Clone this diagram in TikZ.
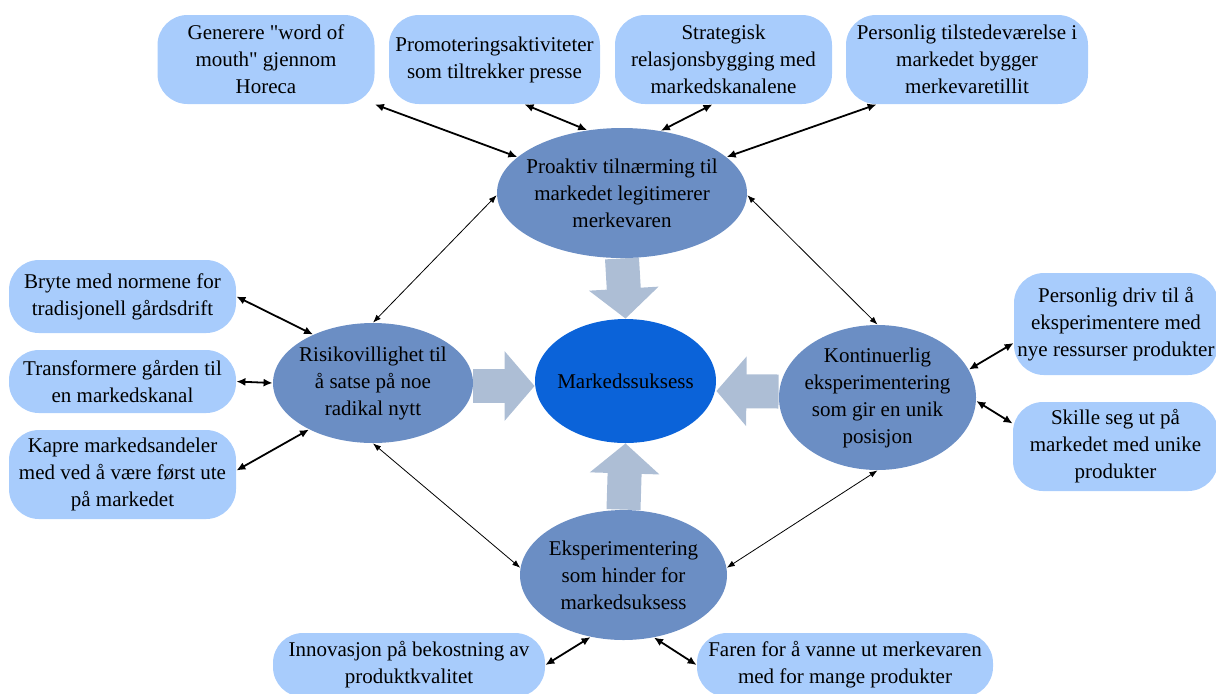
\documentclass[tikz,border=0pt]{standalone}
\usepackage{fontspec}
\setmainfont{Liberation Serif}[Ligatures=TeXOff]
\usetikzlibrary{shapes.geometric, arrows.meta, backgrounds}

\definecolor{boxblue}{RGB}{168,204,252}
\definecolor{themeblue}{RGB}{107,142,196}
\definecolor{coreblue}{RGB}{11,99,217}
\definecolor{flowgrey}{RGB}{173,190,213}

\begin{document}
\begin{tikzpicture}[x=0.5pt, y=-0.5pt,
    every node/.style={font=\fontsize{10.5}{13.5}\selectfont, align=center, inner sep=0pt},
    theme/.style={ellipse, fill=themeblue, inner xsep=-6pt},
    core/.style={ellipse, fill=coreblue, inner xsep=-3pt},
    item/.style={rectangle, rounded corners=15pt, fill=boxblue},
    link/.style={{Latex[length=4.5pt,width=4pt]}-{Latex[length=4.5pt,width=4pt]}, line width=0.9pt},
    thinlink/.style={{Latex[length=4pt,width=3pt]}-{Latex[length=4pt,width=3pt]}, line width=0.4pt},
    flow/.style={draw=flowgrey, line width=17pt, -{Triangle[length=15pt,width=34pt,color=flowgrey]}}]
    \useasboundingbox (0,0) rectangle (1216,693);

    % Themes
    \node[core, minimum width=90.5pt, minimum height=62pt] (mid) at (625.5,381) {Markedssuksess};
    \node[theme, minimum width=125pt, minimum height=65pt] (top) at (622,193)
        {Proaktiv tilnærming til\\markedet legitimerer\\merkevaren};
    \node[theme, minimum width=100pt, minimum height=60pt] (left) at (373,383)
        {Risikovillighet til\\å satse på noe\\radikal nytt};
    \node[theme, minimum width=98.5pt, minimum height=72.5pt] (right) at (877.5,397.5)
        {Kontinuerlig\\eksperimentering\\som gir en unik\\posisjon};
    \node[theme, minimum width=103.5pt, minimum height=65pt] (bot) at (623.5,575)
        {Eksperimentering\\som hinder for\\markedsuksess};

    % Top row
    \foreach \n/\x/\w/\t in {1/266/108.5/{Generere "word of\\mouth" gjennom\\Horeca},
                             2/494.5/105.5/{Promoteringsaktiviteter\\som tiltrekker presse},
                             3/723.5/108.5/{Strategisk\\relasjonsbygging med\\markedskanalene},
                             4/967/121/{Personlig tilstedeværelse i\\markedet bygger\\merkevaretillit}} {
        \node[item, minimum width=\w pt, minimum height=44.5pt] (b\n) at (\x,59.5) {\t};
    }

    % Left column
    \node[item, minimum width=113.5pt, minimum height=36.5pt] (l1) at (122.5,296.5)
        {Bryte med normene for\\tradisjonell gårdsdrift};
    \node[item, minimum width=113.5pt, minimum height=31.5pt] (l2) at (122.5,381.5)
        {Transformere gården til\\en markedskanal};
    \node[item, minimum width=113.5pt, minimum height=44.5pt] (l3) at (122.5,474.5)
        {Kapre markedsandeler\\med ved å være først ute\\på markedet};

    % Right column
    \node[item, minimum width=102pt, minimum height=51pt] (r1) at (1116,324)
        {Personlig driv til å\\eksperimentere med\\nye ressurser produkter};
    \node[item, minimum width=102.5pt, minimum height=44.5pt] (r2) at (1115.5,446.5)
        {Skille seg ut på\\markedet med unike\\produkter};

    % Bottom row
    \node[item, minimum width=136pt, minimum height=32pt] (bl) at (409,665)
        {Innovasjon på bekostning av\\produktkvalitet};
    \node[item, minimum width=148pt, minimum height=32pt] (br) at (845,665)
        {Faren for å vanne ut merkevaren\\med for mange produkter};

    % Flow into the core
    \begin{scope}[on background layer]
        \draw[flow] (top.south) -- (mid.north);
        \draw[flow] ([shift={(0,3)}]left.east) -- ([shift={(0,5)}]mid.west);
        \draw[flow] ([shift={(0,-6)}]right.west) -- ([shift={(0,10)}]mid.east);
        \draw[flow] (bot.north) -- (mid.south);
    \end{scope}

    % Links to items
    \draw[link] (b1.south east) -- (top.161);
    \draw[link] ([shift={(30,0)}]b2.south) -- (top.119);
    \draw[link] ([shift={(-11,0)}]b3.south) -- (top.58);
    \draw[link] ([shift={(31,0)}]b4.south west) -- (top.19);
    \draw[link] (l1.east) -- (left.141);
    \draw[link] (l2.east) -- (left.west);
    \draw[link] ([shift={(0,-4)}]l3.east) -- (left.216);
    \draw[link] ([shift={(0,19)}]r1.west) -- (right.17);
    \draw[link] ([shift={(0,-23)}]r2.west) -- (right.-2);
    \draw[link] (bl.east) -- (bot.242);
    \draw[link] (br.west) -- (bot.296);

    % Links between themes
    \draw[thinlink] (left.north) -- (top.181);
    \draw[thinlink] (right.north) -- (top.-1);
    \draw[thinlink] (left.south) -- (bot.176);
    \draw[thinlink] (right.south) -- (bot.4);
\end{tikzpicture}
\end{document}
